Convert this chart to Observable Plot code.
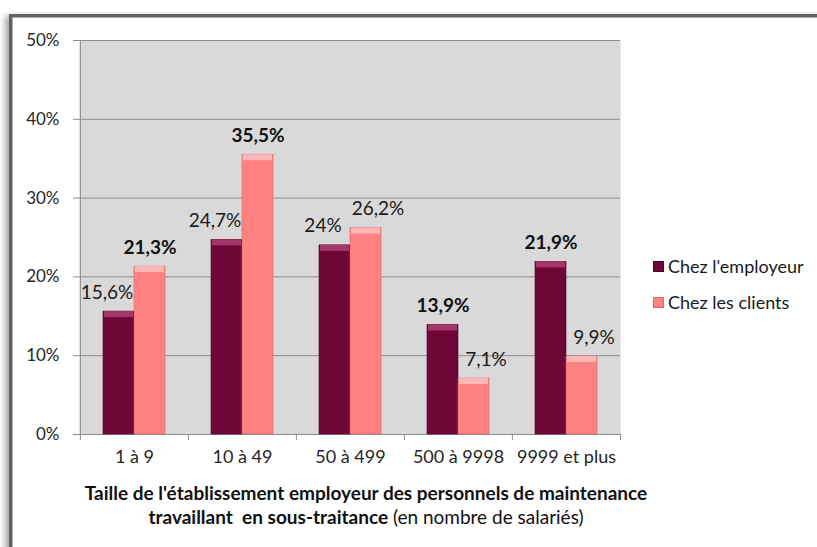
<!DOCTYPE html>
<html>
<head>
<meta charset="utf-8">
<script src="https://cdn.jsdelivr.net/npm/d3@7"></script>
<script src="https://cdn.jsdelivr.net/npm/@observablehq/plot@0.6"></script>
<style>
  html, body { margin: 0; padding: 0; background: #fff; }
  body { width: 817px; height: 547px; overflow: hidden; position: relative; font-family: Lato, "Open Sans", sans-serif; color: #1a1a1a; }
  #frame { position: absolute; left: 9px; top: 14px; width: 900px; height: 620px; border: 3px solid #626262; box-shadow: -4px 2px 6px rgba(0,0,0,0.35), inset 0 0 0 1px #b0b0b0; background: #fff; }
  #chart { position: absolute; left: 0; top: 0; }
  #xtitle { position: absolute; left: 16px; width: 700px; top: 481px; text-align: center; font-size: 19px; line-height: 24px; color: #111; }
  #legend { position: absolute; left: 653px; top: 254px; font-size: 18px; color: #1a1a1a; }
  .li { display: flex; align-items: center; height: 24px; margin-bottom: 12px; white-space: nowrap; }
  .sw { width: 11px; height: 11px; margin-right: 4px; box-sizing: border-box; }
</style>
</head>
<body>
<div id="frame"></div>
<div id="chart"></div>
<div id="xtitle"><b>Taille de l'établissement employeur des personnels de maintenance</b><br><b>travaillant&nbsp; en sous-traitance</b> (en nombre de salariés)</div>
<div id="legend"></div>
<script>
const categories = ["1 à 9", "10 à 49", "50 à 499", "500 à 9998", "9999 et plus"];
const employeur = [15.6, 24.7, 24, 13.9, 21.9];
const clients = [21.3, 35.5, 26.2, 7.1, 9.9];
const employeurBold = [false, false, false, true, true];
const clientsBold = [true, true, false, false, false];
const yTicks = [0, 10, 20, 30, 40, 50];
const seriesNames = ["Chez l'employeur", "Chez les clients"];

const darkColor = "#6e0736";
const darkTop = "#a3376a";
const pinkColor = "#ff8181";
const pinkTop = "#ffb8b8";
const gridColor = "#8c8c8c";

const empData = categories.map((c, i) => ({cat: c, v: employeur[i], bold: employeurBold[i]}));
const cliData = categories.map((c, i) => ({cat: c, v: clients[i], bold: clientsBold[i]}));
const fmt = v => String(v).replace(".", ",") + "%";

const W = 817, H = 547, mL = 79, mR = 197, mT = 40, mB = 113;
const bw = (W - mL - mR) / categories.length;
const inOut = 23, inIn = 54;            // bar insets within each band
const barW = bw - inOut - inIn;
const cDark = inOut + barW / 2 - bw / 2; // bar centers relative to band center
const cPink = inIn + barW / 2 - bw / 2;

const labelMarks = (data, center, shift) => [
  Plot.text(data, {filter: d => d.bold, x: "cat", y: "v", text: d => fmt(d.v), dx: center, dy: -19,
    fill: "#111", fontSize: 19, fontWeight: "bold"}),
  Plot.text(data, {filter: d => !d.bold, x: "cat", y: "v", text: d => fmt(d.v), dx: center + shift, dy: -19,
    fill: "#1a1a1a", fontSize: 19})
];

const plot = Plot.plot({
  width: W, height: H,
  marginLeft: mL, marginRight: mR, marginTop: mT, marginBottom: mB,
  style: {fontFamily: "Lato, 'Open Sans', sans-serif", fontSize: "18px", background: "transparent", color: "#262626"},
  x: {type: "band", domain: categories, padding: 0, axis: null},
  y: {domain: [0, 50], axis: null},
  marks: [
    Plot.frame({fill: "#d9d9d9", stroke: "none"}),
    Plot.gridY(yTicks.filter(t => t > 0), {stroke: gridColor, strokeOpacity: 1}),
    Plot.ruleX([categories[0]], {x: d => d, y1: 0, y2: 50, dx: -bw / 2, stroke: gridColor}),
    Plot.ruleY([0], {stroke: gridColor}),
    Plot.ruleX(categories, {x: d => d, y1: 0, y2: 0, dx: -bw / 2, insetBottom: -6, stroke: gridColor}),
    Plot.ruleX([categories[categories.length - 1]], {x: d => d, y1: 0, y2: 0, dx: bw / 2, insetBottom: -6, stroke: gridColor}),
    Plot.axisY({ticks: yTicks, tickFormat: d => d + "%", tickSize: 6, tickPadding: 14, stroke: gridColor, fill: "#262626", label: null, fontSize: 17}),
    Plot.axisX({tickSize: 0, tickPadding: 16, fill: "#262626", label: null, fontSize: 18}),
    Plot.barY(empData, {x: "cat", y: "v", fill: darkColor, insetLeft: inOut, insetRight: inIn, stroke: "#4e0225", strokeWidth: 0.6}),
    Plot.barY(cliData, {x: "cat", y: "v", fill: pinkColor, insetLeft: inIn, insetRight: inOut, stroke: "#d86a6a", strokeWidth: 0.6}),
    Plot.barY(empData, {x: "cat", y1: "v", y2: "v", fill: darkTop, insetLeft: inOut + 1, insetRight: inIn + 1, insetBottom: -6}),
    Plot.barY(cliData, {x: "cat", y1: "v", y2: "v", fill: pinkTop, insetLeft: inIn + 1, insetRight: inOut + 1, insetBottom: -6}),
    ...labelMarks(empData, cDark, -12),
    ...labelMarks(cliData, cPink, 12)
  ]
});
document.getElementById("chart").appendChild(plot);

// Legend
const legend = document.getElementById("legend");
[[seriesNames[0], darkColor, "#4e0225"], [seriesNames[1], pinkColor, "#d86a6a"]].forEach(([name, col, edge]) => {
  const row = document.createElement("div");
  row.className = "li";
  const sw = document.createElement("span");
  sw.className = "sw";
  sw.style.background = col;
  sw.style.border = "1px solid " + edge;
  const t = document.createElement("span");
  t.textContent = name;
  row.appendChild(sw);
  row.appendChild(t);
  legend.appendChild(row);
});
</script>
</body>
</html>
